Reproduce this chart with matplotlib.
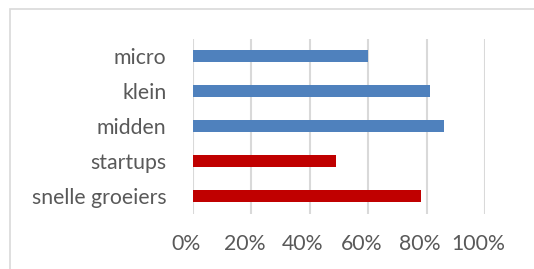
import matplotlib
matplotlib.use('Agg')
import matplotlib.pyplot as plt
import matplotlib.transforms as mtransforms
from matplotlib.patches import Rectangle
import numpy as np

# data (top to bottom as in the chart)
categories = ['micro', 'klein', 'midden', 'startups', 'snelle groeiers']
values = [0.60, 0.81, 0.86, 0.49, 0.78]
colors = ['#4f81bd', '#4f81bd', '#4f81bd', '#c00000', '#c00000']
xticks = [0, 0.2, 0.4, 0.6, 0.8, 1.0]
xticklabels = ['0%', '20%', '40%', '60%', '80%', '100%']

plt.rcParams['font.family'] = ['Lato', 'DejaVu Sans']

fig = plt.figure(figsize=(5.34, 2.69), dpi=100)
ax = fig.add_axes([193/534, 1 - 213.5/269, 292/534, 175/269])

# chart border (right/bottom run off the image)
fig.patches.append(Rectangle((10/534, -0.1), 1.0, 1 - 9/269 + 0.1,
                             transform=fig.transFigure, fill=False,
                             edgecolor='#d9d9d9', linewidth=1.2))

y = np.arange(len(categories))
ax.barh(y, values, height=0.34, color=colors, zorder=3)

ax.set_xlim(0, 1.0)
ax.set_ylim(len(categories) - 0.5, -0.5)
ax.set_yticks(y)
ax.set_yticklabels(categories)
ax.set_xticks(xticks)
ax.set_xticklabels(xticklabels)

for s in ax.spines.values():
    s.set_visible(False)
ax.grid(True, axis='x', color='#d9d9d9', linewidth=1.5, zorder=0)
ax.tick_params(axis='y', length=0, pad=19, labelsize=15.3, labelcolor='#595959')
ax.tick_params(axis='x', length=0, pad=15, labelsize=15.3, labelcolor='#595959')

# x labels sit a little left of their gridlines in the original
shift = mtransforms.ScaledTranslation(-7/100, 0, fig.dpi_scale_trans)
for lab in ax.get_xticklabels():
    lab.set_transform(lab.get_transform() + shift)

fig.savefig('out.png', dpi=100)
